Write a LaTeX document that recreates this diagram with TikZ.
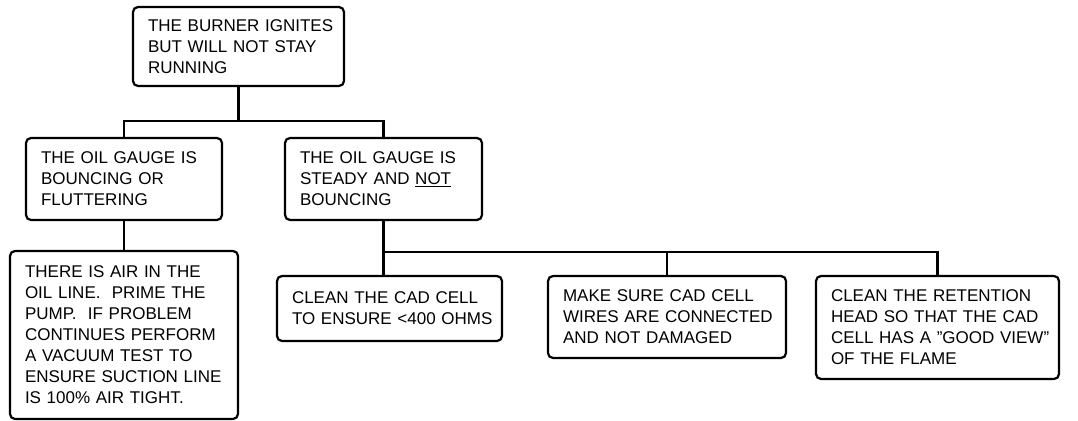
\documentclass[tikz,border=0pt]{standalone}
\usepackage{fontspec}
\setmainfont{Liberation Sans}[Ligatures=ResetAll]
\newcommand{\bxline}[1]{\mbox{#1}}
\tikzset{
  box/.style={draw=black, line width=2.2pt, rounded corners=5pt, fill=white,
    inner xsep=15pt, inner ysep=0pt, align=left,
    font=\fontsize{17}{21}\selectfont},
  conn/.style={draw=black, line width=2.2pt}
}
\begin{document}
\begin{tikzpicture}[x=1pt,y=1pt]
\useasboundingbox (0,0) rectangle (1078,-420);
\node[box, text width=181pt, minimum height=79pt] (top) at (238.5,-46.5)
  {\bxline{THE BURNER IGNITES}\\\bxline{BUT WILL NOT STAY}\\\bxline{RUNNING}};
\node[box, text width=166pt, minimum height=82pt] (left) at (124,-179)
  {\bxline{THE OIL GAUGE IS}\\\bxline{BOUNCING OR}\\\bxline{FLUTTERING}};
\node[box, text width=167pt, minimum height=82pt] (mid) at (383.5,-179)
  {\bxline{THE OIL GAUGE IS}\\\bxline{STEADY AND \underline{NOT}}\\\bxline{BOUNCING}};
\node[box, text width=198pt, minimum height=168pt] (air) at (124,-335)
  {\bxline{THERE IS AIR IN THE}\\\bxline{OIL LINE.\ \ PRIME THE}\\\bxline{PUMP.\ \ IF PROBLEM}\\\bxline{CONTINUES PERFORM}\\\bxline{A VACUUM TEST TO}\\\bxline{ENSURE SUCTION LINE}\\\bxline{IS 100\% AIR TIGHT.}};
\node[box, text width=195pt, minimum height=65pt] (cad) at (389.5,-308.5)
  {\bxline{CLEAN THE CAD CELL}\\\bxline{TO ENSURE <400 OHMS}};
\node[box, text width=208pt, minimum height=82pt] (make) at (667,-317)
  {\bxline{MAKE SURE CAD CELL}\\\bxline{WIRES ARE CONNECTED}\\\bxline{AND NOT DAMAGED}};
\node[box, text width=213pt, minimum height=103pt] (ret) at (937.5,-327.5)
  {\bxline{CLEAN THE RETENTION}\\\bxline{HEAD SO THAT THE CAD}\\\bxline{CELL HAS A "GOOD VIEW"}\\\bxline{OF THE FLAME}};
\coordinate (bus1) at ([yshift=-34pt]top.south);
\coordinate (bus2) at ([yshift=-31pt]mid.south);
\draw[conn] (top.south) -- (bus1) -| (left.north);
\draw[conn] (bus1) -| (mid.north);
\draw[conn] (left.south) -- (air.north);
\draw[conn] (mid.south) -- (mid.south |- cad.north);
\draw[conn] (bus2) -| (make.north);
\draw[conn] (bus2) -| (ret.north);
\end{tikzpicture}
\end{document}
